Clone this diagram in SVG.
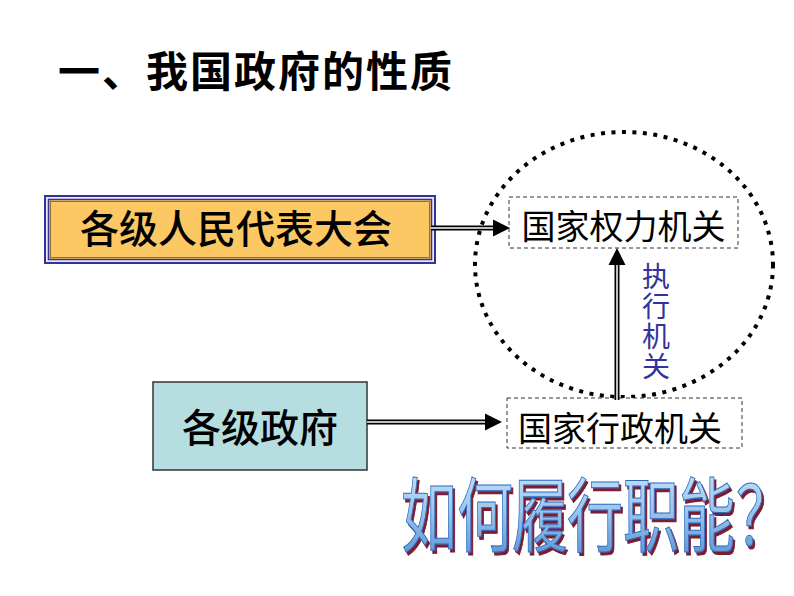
<svg xmlns="http://www.w3.org/2000/svg" width="794" height="596" viewBox="0 0 794 596">
<defs>
<style>
.cjk{font-family:"Noto Sans CJK SC","Noto Sans CJK JP",sans-serif;}
.box{font-size:39px;fill:#000;text-anchor:middle;font-weight:500;}
.dbox{fill:#fff;stroke:#333;stroke-width:1;stroke-dasharray:4 3;}
.lineO{stroke:#000;stroke-width:5;fill:none;}
.lineI{stroke:#fff;stroke-width:1.5;fill:none;}
</style>
<linearGradient id="wg" x1="0" y1="0" x2="0" y2="1">
<stop offset="0" stop-color="#D8ECFA"/>
<stop offset="0.5" stop-color="#9CC8EE"/>
<stop offset="1" stop-color="#4A8AD0"/>
</linearGradient>
<filter id="shadow" x="-5%" y="-10%" width="115%" height="130%">
<feOffset in="SourceAlpha" dx="2" dy="2" result="off"/>
<feFlood flood-color="#7A1A30"/>
<feComposite in2="off" operator="in" result="sh"/>
<feMerge><feMergeNode in="sh"/><feMergeNode in="SourceGraphic"/></feMerge>
</filter>
</defs>
<rect width="794" height="596" fill="#fff"/>

<g id="title">
<text class="cjk" x="58" y="87" font-size="42" font-weight="bold" letter-spacing="2">一、我国政府的性质</text>
</g>

<g id="circle">
<ellipse cx="624" cy="264.5" rx="149" ry="132.5" fill="none" stroke="#000" stroke-width="4" stroke-dasharray="4 6.5"/>
</g>

<g id="renda">
<rect x="45" y="196" width="390" height="67" fill="#E8E8F8" stroke="#333399" stroke-width="2"/>
<rect x="48.5" y="199.5" width="383" height="60" fill="#FBC864" stroke="#333399" stroke-width="1.5"/>
<rect x="50.5" y="201.5" width="379" height="56" fill="none" stroke="#7a5a2a" stroke-width="0.8"/>
<text class="cjk box" x="236" y="243">各级人民代表大会</text>
</g>

<g id="zhengfu">
<rect x="153" y="382" width="214" height="88" fill="#B6DEE0" stroke="#333" stroke-width="1.5"/>
<text class="cjk box" x="260" y="442">各级政府</text>
</g>

<g id="quanli">
<rect class="dbox" x="509" y="197" width="229" height="51"/>
<text class="cjk" x="623.5" y="239" font-size="34" text-anchor="middle">国家权力机关</text>
</g>

<g id="xingzheng">
<rect class="dbox" x="507" y="398" width="235" height="50" stroke-dasharray="4 2 1 2"/>
<text class="cjk" x="620" y="441" font-size="34" text-anchor="middle">国家行政机关</text>
</g>

<g id="connectors">
<line class="lineO" x1="431" y1="228" x2="494" y2="228"/>
<line class="lineI" x1="431" y1="228" x2="494" y2="228"/>
<polygon points="493,219.5 510,228 493,236.5" fill="#000"/>
<line class="lineO" x1="367" y1="422" x2="486" y2="422"/>
<line class="lineI" x1="367" y1="422" x2="486" y2="422"/>
<polygon points="485,413.5 502,422 485,430.5" fill="#000"/>
<line class="lineO" x1="617" y1="400" x2="617" y2="262"/>
<line class="lineI" x1="617" y1="400" x2="617" y2="262"/>
<polygon points="608.5,265 617,248 625.5,265" fill="#000"/>
</g>

<g id="label-zhixing">
<text class="cjk" x="656" y="262" font-size="28" fill="#333399" letter-spacing="2" style="writing-mode:vertical-rl">执行机关</text>
</g>

<g id="question">
<text class="cjk" transform="translate(0,545) scale(1,1.45)" x="401 457 512 567 623 679 736" y="0" font-size="56" fill="url(#wg)" stroke="#2A6ABF" stroke-width="0.7" filter="url(#shadow)">如何履行职能？</text>
</g>
</svg>
